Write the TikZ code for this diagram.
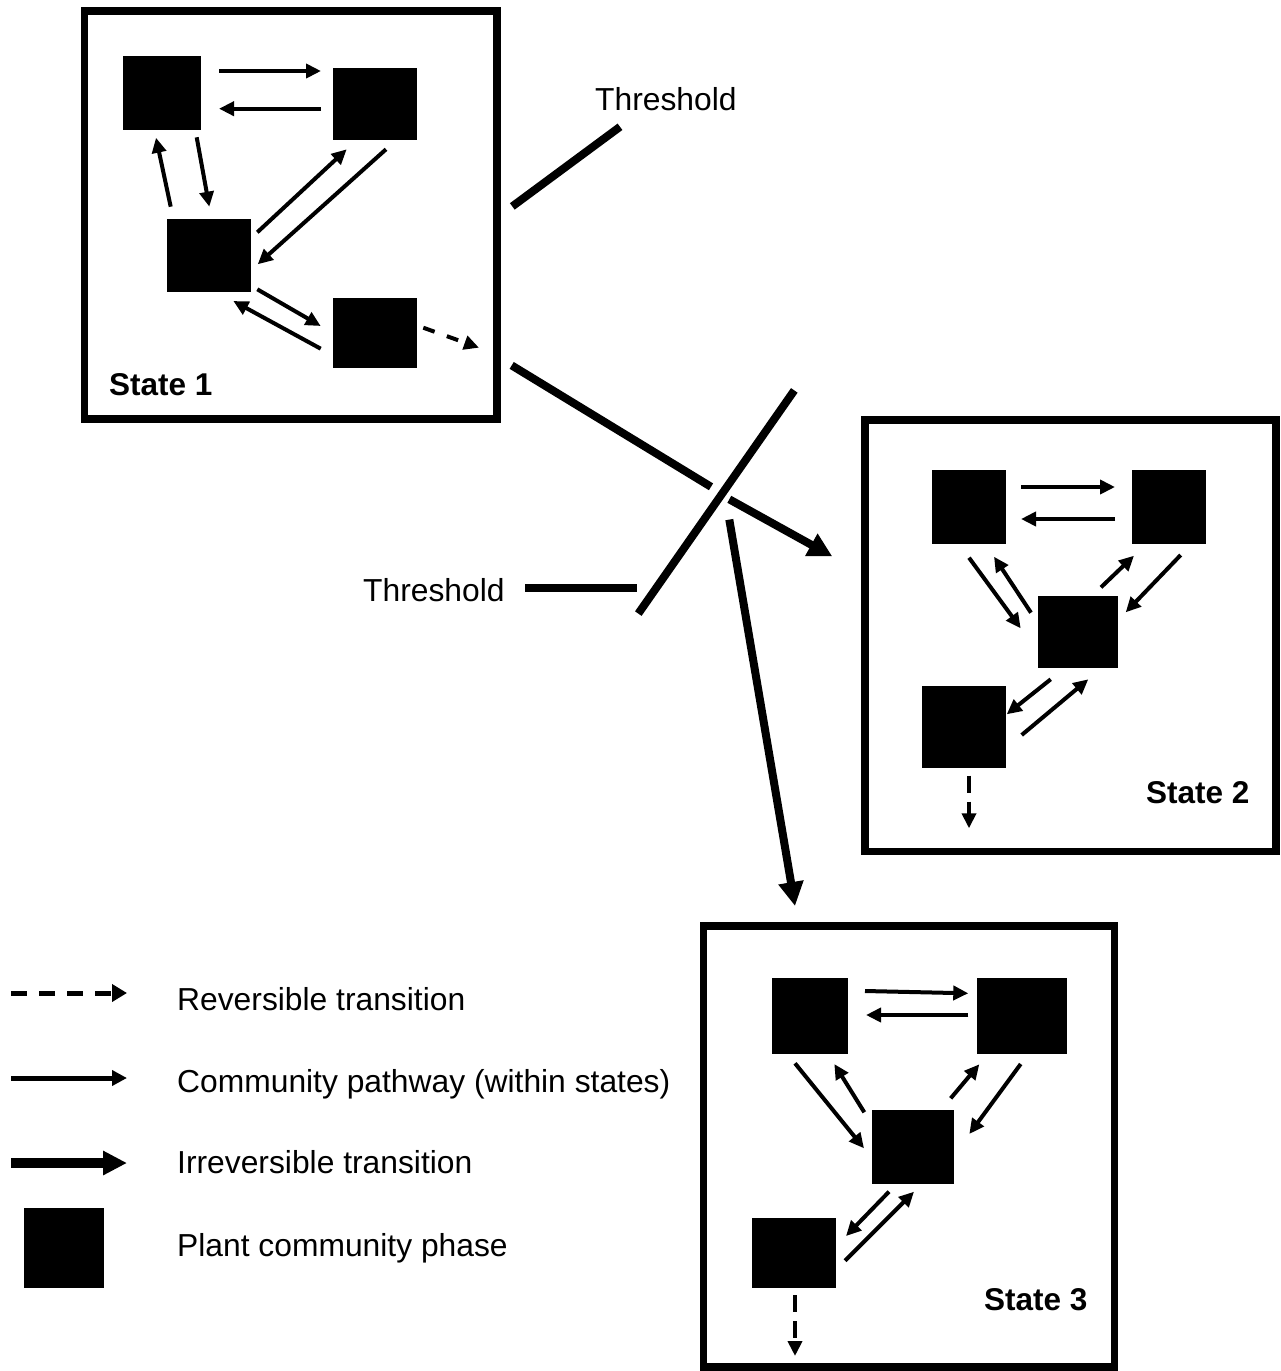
\documentclass[tikz,border=0pt]{standalone}
\usepackage{fontspec}
\setmainfont{Liberation Sans}
\usetikzlibrary{arrows.meta,calc}
\begin{document}
\begin{tikzpicture}[x=1pt,y=-1pt,
  phase/.style={fill=black,draw=none,inner sep=0pt,outer sep=0pt},
  statebox/.style={draw=black,line width=7.5pt,inner sep=0pt,outer sep=0pt},
  pathway/.style={line width=4pt,-{Triangle[length=15pt,width=14pt]}},
  rev/.style={line width=4pt,dash pattern=on 15pt off 10pt,-{Triangle[length=15pt,width=14pt]}},
  irr/.style={line width=8pt,-{Triangle[length=24pt,width=24pt]}},
  thr/.style={line width=8pt},
  lbl/.style={inner sep=0pt,anchor=base west,font=\fontsize{31.8}{36}\selectfont},
  slbl/.style={inner sep=0pt,anchor=base west,font=\fontsize{31.5}{36}\selectfont\bfseries}
]
\useasboundingbox (0,0) rectangle (1280,1371);

% ---------- State 1 ----------
\node[statebox,minimum width=412.5pt,minimum height=408pt] (st1) at (290.75,215) {};
\node[phase,minimum width=78pt,minimum height=74pt] (s1a) at (162,93) {};
\node[phase,minimum width=84pt,minimum height=72pt] (s1b) at (375,104) {};
\node[phase,minimum width=84pt,minimum height=73pt] (s1c) at (209,255.5) {};
\node[phase,minimum width=84pt,minimum height=70pt] (s1d) at (375,333) {};
\node[slbl] (lab1) at (109,395) {State 1};

\draw[pathway] ([shift={(57,-22)}]s1a.center) -- ([shift={(-54,-33)}]s1b.center);
\draw[pathway] ([shift={(-54,4.7)}]s1b.center) -- ([shift={(57,15.7)}]s1a.center);
\draw[pathway] ([shift={(-38.3,-48.8)}]s1c.center) -- ([shift={(-6,44.7)}]s1a.center);
\draw[pathway] ([shift={(34.7,44.3)}]s1a.center) -- ([shift={(0.3,-48.8)}]s1c.center);
\draw[pathway] ([shift={(48.3,-23.2)}]s1c.center) -- ([shift={(-28.3,45.3)}]s1b.center);
\draw[pathway] ([shift={(11,45.3)}]s1b.center) -- ([shift={(48.7,8.8)}]s1c.center);
\draw[pathway] ([shift={(48.3,33.8)}]s1c.center) -- ([shift={(-54.3,-7)}]s1d.center);
\draw[pathway] ([shift={(-54.3,15.7)}]s1d.center) -- ([shift={(24.3,45.5)}]s1c.center);
\coordinate (e1) at (479,347.7);
\draw[rev,dash pattern=on 12pt off 13pt] ([shift={(48.3,-5.3)}]s1d.center) -- (e1);

% ---------- State 2 ----------
\node[statebox,minimum width=411pt,minimum height=431.5pt] (st2) at (1070.5,635.75) {};
\node[phase,minimum width=74pt,minimum height=74pt] (s2a) at (969,507) {};
\node[phase,minimum width=74pt,minimum height=74pt] (s2b) at (1169,507) {};
\node[phase,minimum width=80pt,minimum height=72pt] (s2c) at (1078,632) {};
\node[phase,minimum width=84pt,minimum height=82pt] (s2d) at (964,727) {};
\node[slbl] (lab2) at (1146,803) {State 2};

\draw[pathway] ([shift={(52,-20)}]s2a.center) -- ([shift={(-54,-20)}]s2b.center);
\draw[pathway] ([shift={(-54,12)}]s2b.center) -- ([shift={(52,12)}]s2a.center);
\draw[pathway] ([shift={(0,50.7)}]s2a.center) -- ([shift={(-57.3,-3.7)}]s2c.center);
\draw[pathway] ([shift={(-47,-19.3)}]s2c.center) -- ([shift={(25,49.7)}]s2a.center);
\draw[pathway] ([shift={(23,-44.7)}]s2c.center) -- ([shift={(-35,48.7)}]s2b.center);
\draw[pathway] ([shift={(11.7,48)}]s2b.center) -- ([shift={(47.7,-19.7)}]s2c.center);
\draw[pathway] ([shift={(-27.3,47.3)}]s2c.center) -- ([shift={(42.7,-12.7)}]s2d.center);
\draw[pathway] ([shift={(57.7,8)}]s2d.center) -- ([shift={(10.3,47.3)}]s2c.center);
\coordinate (e2) at (969,828.3);
\draw[rev,dash pattern=on 17pt off 9pt] ([shift={(5,48.7)}]s2d.center) -- (e2);

% ---------- State 3 ----------
\node[statebox,minimum width=411pt,minimum height=441pt] (st3) at (909,1146.5) {};
\node[phase,minimum width=76pt,minimum height=76pt] (s3a) at (810,1016) {};
\node[phase,minimum width=90pt,minimum height=76pt] (s3b) at (1022,1016) {};
\node[phase,minimum width=82pt,minimum height=74pt] (s3c) at (913,1147) {};
\node[phase,minimum width=84pt,minimum height=70pt] (s3d) at (794,1253) {};
\node[slbl] (lab3) at (984,1310) {State 3};

\draw[pathway] ([shift={(55,-25)}]s3a.center) -- ([shift={(-53.7,-22.7)}]s3b.center);
\draw[pathway] ([shift={(-53.7,-1)}]s3b.center) -- ([shift={(56,-1)}]s3a.center);
\draw[pathway] ([shift={(-15,47.3)}]s3a.center) -- ([shift={(-49,1.3)}]s3c.center);
\draw[pathway] ([shift={(-48.7,-34.7)}]s3c.center) -- ([shift={(24.3,48)}]s3a.center);
\draw[pathway] ([shift={(37.7,-48.7)}]s3c.center) -- ([shift={(-42.7,48.3)}]s3b.center);
\draw[pathway] ([shift={(-1.3,48)}]s3b.center) -- ([shift={(56.3,-13)}]s3c.center);
\draw[pathway] ([shift={(-24,44.7)}]s3c.center) -- ([shift={(52,-17)}]s3d.center);
\draw[pathway] ([shift={(51,7.7)}]s3d.center) -- ([shift={(1,44.7)}]s3c.center);
\coordinate (e3) at (795,1356);
\draw[rev,dash pattern=on 17pt off 9pt] ([shift={(1,42)}]s3d.center) -- (e3);

% ---------- Thresholds ----------
\node[lbl] (thA) at (595,110) {Threshold};
\coordinate (thAend) at (512.3,206.4);
\draw[thr] ([shift={(25,16.8)}]thA.base west) -- (thAend);

\node[lbl] (thB) at (363,601) {Threshold};
\coordinate (x1) at (794.3,390.4);
\coordinate (x2) at (638.3,613.6);
\draw[thr] (x1) -- (x2);
\coordinate (thBend) at (636.7,587.5);
\draw[thr] ([shift={(162,-13.5)}]thB.base west) -- (thBend);

% ---------- Irreversible transitions ----------
\coordinate (g1) at (711,486.8);
\coordinate (g2) at (729.3,499.3);
\coordinate (g3) at (729.3,519.6);
\draw[thr] ([shift={(220.95,150.4)}]st1.center) -- (g1);
\draw[irr] (g2) -- ([shift={(-238.2,-79.35)}]st2.center);
\draw[irr] (g3) -- ([shift={(-114,-240.5)}]st3.center);

% ---------- Legend ----------
\coordinate (l1a) at (11,993);   \coordinate (l1b) at (127,993);
\coordinate (l2a) at (11,1078);  \coordinate (l2b) at (127,1078);
\coordinate (l3a) at (11,1163);  \coordinate (l3b) at (127,1163);
\draw[line width=5pt,dash pattern=on 16pt off 12pt,-{Triangle[length=15pt,width=17pt]}] (l1a) -- (l1b);
\draw[line width=5pt,-{Triangle[length=15pt,width=15pt]}] (l2a) -- (l2b);
\draw[line width=9.5pt,-{Triangle[length=24pt,width=23pt]}] (l3a) -- (l3b);
\node[phase,minimum width=80pt,minimum height=80pt] (leg) at (64,1248) {};

\node[lbl] (t1) at (177,1010) {Reversible transition};
\node[lbl] (t2) at (177,1092) {Community pathway (within states)};
\node[lbl] (t3) at (177,1173) {Irreversible transition};
\node[lbl] (t4) at (177,1256) {Plant community phase};
\end{tikzpicture}
\end{document}
